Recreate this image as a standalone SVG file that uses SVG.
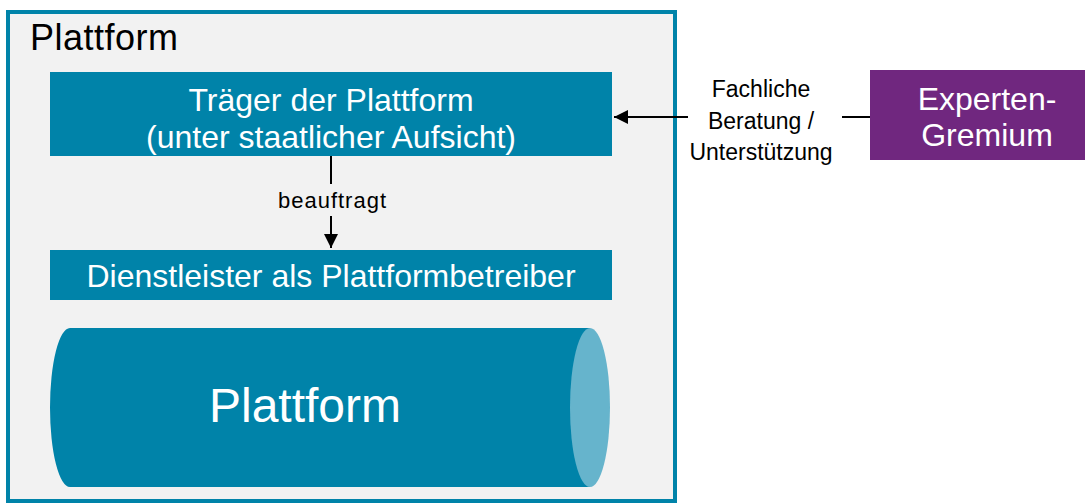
<svg xmlns="http://www.w3.org/2000/svg" width="1091" height="503" viewBox="0 0 1091 503">
<style>
.box{fill:#0083a9}
.wt{fill:#fff;font-family:"Liberation Sans",Arial,sans-serif;text-anchor:middle}
.bt{fill:#000;font-family:"Liberation Sans",Arial,sans-serif;text-anchor:middle}
.ln{stroke:#000;stroke-width:2;fill:none}
</style>
<defs>
<marker id="ah2" viewBox="0 0 10 10" refX="10" refY="5" markerWidth="14" markerHeight="14" markerUnits="userSpaceOnUse" orient="auto"><path d="M0,0 L10,5 L0,10 z" fill="#000"/></marker>
</defs>
<rect width="1091" height="503" fill="#fff"/>
<g id="frame">
<rect x="8" y="12" width="667" height="489" fill="#f2f2f2" stroke="#0083a9" stroke-width="4"/>
<text x="30" y="50" font-size="36" font-family="Liberation Sans,Arial,sans-serif" fill="#000" textLength="148">Plattform</text>
</g>
<g id="traeger">
<rect class="box" x="50" y="72" width="562" height="84"/>
<text class="wt" x="331" y="111" font-size="32">Träger der Plattform</text>
<text class="wt" x="331" y="148" font-size="32">(unter staatlicher Aufsicht)</text>
</g>
<g id="dienstleister">
<rect class="box" x="50" y="250" width="562" height="50"/>
<text class="wt" x="331" y="287" font-size="32">Dienstleister als Plattformbetreiber</text>
</g>
<g id="plattform">
<path class="box" d="M70,328 L590,328 L590,487 L70,487 A20,79.5 0 0 1 70,328 z"/>
<ellipse cx="590" cy="407.5" rx="20" ry="79.5" fill="#66b4cc"/>
<text class="wt" x="305" y="422" font-size="48">Plattform</text>
</g>
<g id="experten">
<rect x="870" y="70" width="215" height="90" fill="#70277f"/>
<text class="wt" x="987" y="110" font-size="32">Experten-</text>
<text class="wt" x="987" y="146" font-size="32">Gremium</text>
</g>
<g id="connectors">
<line class="ln" x1="331" y1="156" x2="331" y2="184"/>
<line class="ln" x1="331" y1="216" x2="331" y2="248" marker-end="url(#ah2)"/>
<text class="bt" x="332" y="208" font-size="22" textLength="108">beauftragt</text>
<line class="ln" x1="842" y1="117" x2="870" y2="117"/>
<line class="ln" x1="688" y1="117" x2="614" y2="117" marker-end="url(#ah2)"/>
<text class="bt" x="761" y="97" font-size="23">Fachliche</text>
<text class="bt" x="761" y="129" font-size="23">Beratung /</text>
<text class="bt" x="761" y="160" font-size="23">Unterstützung</text>
</g>
</svg>
